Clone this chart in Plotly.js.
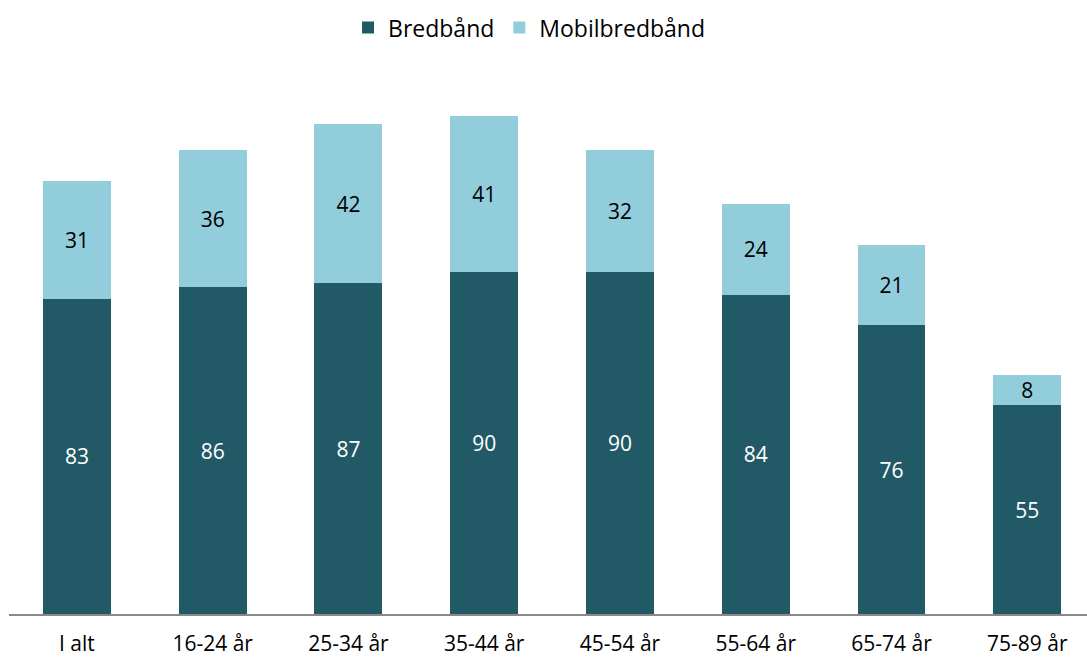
<!DOCTYPE html>
<html><head><meta charset="utf-8">
<script src="https://cdn.plot.ly/plotly-3.0.1.min.js"></script>
<style>html,body{margin:0;padding:0;background:#fff}</style>
</head><body>
<div id="chart" style="width:1087px;height:657px"></div>
<script>
const categories = ["I alt","16-24 år","25-34 år","35-44 år","45-54 år","55-64 år","65-74 år","75-89 år"];
const bredband = [83, 86, 87, 90, 90, 84, 76, 55];
const mobilbredband = [31, 36, 42, 41, 32, 24, 21, 8];
const seriesNames = ["Bredbånd", "Mobilbredbånd"];
const FONT = "Open Sans, sans-serif";
const traces = [
  {type:"bar", name:seriesNames[0], x:categories, y:bredband,
   marker:{color:"#215967"}, text:bredband.map(String), textposition:"inside", textangle:0,
   constraintext:"none", insidetextanchor:"middle", textfont:{color:"#ffffff", size:21, family:FONT}, hoverinfo:"none"},
  {type:"bar", name:seriesNames[1], x:categories, y:mobilbredband,
   marker:{color:"#92CDDC"}, text:mobilbredband.map(String), textposition:"inside", textangle:0,
   constraintext:"none", insidetextanchor:"middle", textfont:{color:"#000000", size:21, family:FONT}, hoverinfo:"none"}
];
const layout = {
  width:1087, height:657, barmode:"stack", bargap:0.5,
  margin:{l:9, r:0, t:0, b:43},
  paper_bgcolor:"#fff", plot_bgcolor:"#fff",
  font:{family:FONT, size:21, color:"#000"},
  showlegend:true,
  legend:{orientation:"h", x:0.3145, xanchor:"left", y:0.955, yanchor:"middle",
    font:{size:23, family:FONT}, traceorder:"normal"},
  xaxis:{type:"category", range:[-0.5, 7.44], showline:true, linecolor:"#898989", linewidth:2,
    ticks:"", ticklabelstandoff:10, tickfont:{size:21, family:FONT}, showgrid:false, zeroline:false, fixedrange:true},
  yaxis:{range:[0,140], domain:[0,0.8664], visible:false, showgrid:false, zeroline:false, fixedrange:true},
  uniformtext:{mode:false}
};
Plotly.newPlot("chart", traces, layout, {displayModeBar:false, staticPlot:true});
</script>
</body></html>
